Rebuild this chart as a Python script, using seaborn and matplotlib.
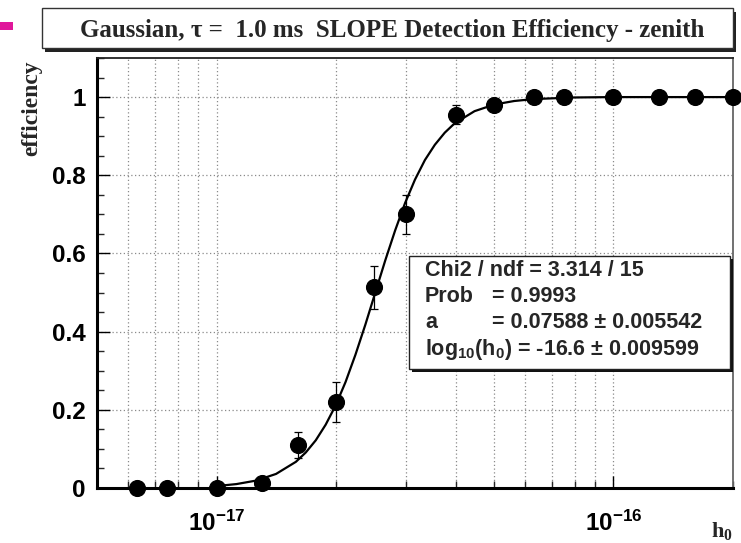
import numpy as np
import pandas as pd
import matplotlib
matplotlib.use("Agg")
import matplotlib.pyplot as plt
import matplotlib.ticker as mticker
from matplotlib.patches import Rectangle
import seaborn as sns

h0 = [6.3e-18, 7.5e-18, 1.0e-17, 1.3e-17, 1.6e-17, 2.0e-17, 2.5e-17, 3.0e-17,
      4.0e-17, 5.0e-17, 6.3e-17, 7.5e-17, 1.0e-16, 1.3e-16, 1.6e-16, 2.0e-16]
eff = [0.0, 0.0, 0.0, 0.013, 0.11, 0.22, 0.513, 0.70,
       0.955, 0.98, 1.0, 1.0, 1.0, 1.0, 1.0, 1.0]
eff_err = [0.0, 0.0, 0.0, 0.01, 0.033, 0.05, 0.055, 0.05,
           0.025, 0.01, 0.0, 0.0, 0.0, 0.0, 0.0, 0.0]

# fitted curve (log10 h0 -> efficiency)
fit_log_h0 = [-17.0, -16.95, -16.9, -16.85, -16.8, -16.775, -16.75, -16.725,
              -16.7, -16.675, -16.65, -16.625, -16.6, -16.575, -16.55, -16.525,
              -16.5, -16.475, -16.45, -16.425, -16.4, -16.35, -16.3, -16.25,
              -16.2, -16.1, -16.0, -15.85, -15.7]
fit_eff = [0.005, 0.010, 0.019, 0.036, 0.067, 0.091, 0.122, 0.162,
           0.211, 0.271, 0.341, 0.418, 0.5, 0.582, 0.659, 0.729,
           0.789, 0.839, 0.878, 0.909, 0.933, 0.964, 0.981, 0.990,
           0.995, 0.999, 1.0, 1.0, 1.0]

xticks = [1e-17, 1e-16]
xtick_labels = ["$10^{-17}$", "$10^{-16}$"]
title = "Gaussian, \u03c4 =  1.0 ms  SLOPE Detection Efficiency - zenith"
stats_labels = ["Chi2 / ndf = 3.314 / 15", "Prob", "a", "log$_{10}$(h$_0$) = -16.6 \u00b1 0.009599"]
stats_values = ["", "= 0.9993", "= 0.07588 \u00b1 0.005542", ""]

sns.set_style("white")
plt.rcParams["font.family"] = ["Liberation Sans", "DejaVu Sans"]
plt.rcParams["mathtext.default"] = "regular"

df = pd.DataFrame({"h0": h0, "eff": eff, "err": eff_err})
fit = pd.DataFrame({"h0": 10 ** np.array(fit_log_h0), "eff": fit_eff})

W, H = 741, 543
fig = plt.figure(figsize=(W / 100, H / 100), dpi=100)
ax = fig.add_axes([97 / W, 55 / H, 636 / W, 430 / H])
ax.set_xscale("log")

sns.lineplot(data=fit, x="h0", y="eff", ax=ax, color="black", lw=1.6, zorder=3)
ax.errorbar(df["h0"], df["eff"], yerr=df["err"], fmt="none", ecolor="black",
            elinewidth=0.9, capsize=3, capthick=0.9, zorder=4)
sns.scatterplot(data=df, x="h0", y="eff", ax=ax, color="black", s=130,
                edgecolor="black", zorder=5, clip_on=False)

ax.set_xlim(5e-18, 2e-16)
ax.set_ylim(0, 1.1)
ax.set_xlabel("")
ax.set_ylabel("")

ax.set_xticks(xticks)
ax.set_xticklabels(xtick_labels)
ax.xaxis.set_minor_locator(mticker.LogLocator(base=10, subs=np.arange(2, 10)))
ax.xaxis.set_minor_formatter(mticker.NullFormatter())
ax.yaxis.set_major_locator(mticker.MultipleLocator(0.2))
ax.yaxis.set_minor_locator(mticker.MultipleLocator(0.05))
ax.yaxis.set_major_formatter(mticker.FuncFormatter(lambda v, p: "%g" % round(v, 2)))

ax.tick_params(which="major", direction="in", length=9, width=1, colors="black",
               labelsize=17.5, bottom=True, left=True)
ax.tick_params(which="minor", direction="in", length=5, width=1, bottom=True, left=True)
ax.tick_params(axis="x", which="major", pad=16)
ax.tick_params(axis="y", which="major", pad=8)
for lab in ax.get_xticklabels() + ax.get_yticklabels():
    lab.set_fontweight("bold")

ax.grid(which="both", axis="x", color="#8a8a8a", ls=(0, (1, 2)), lw=0.9)
ax.grid(which="major", axis="y", color="#8a8a8a", ls=(0, (1, 2)), lw=0.9)

for side in ["left", "bottom"]:
    ax.spines[side].set_linewidth(2.2)
    ax.spines[side].set_color("black")
ax.spines["top"].set_linewidth(1.3)
ax.spines["top"].set_color("#222222")
ax.spines["right"].set_linewidth(1.3)
ax.spines["right"].set_color("#666666")

fig.text(32 / W, 1 - 60 / H, "efficiency", rotation=90,
         ha="center", va="top", fontsize=17, fontweight="bold",
         family=["Liberation Serif", "DejaVu Serif"])
fig.text(733 / W, 1 - 537 / H, "h$_0$", ha="right", va="baseline", fontsize=16,
         fontweight="bold", family=["Liberation Serif", "DejaVu Serif"])

# title box with shadow
fig.add_artist(Rectangle((45 / W, 1 - 52 / H), 691 / W, 40 / H, transform=fig.transFigure,
                         facecolor="#222222", edgecolor="none", zorder=5))
fig.add_artist(Rectangle((42 / W, 1 - 48 / H), 691 / W, 40 / H, transform=fig.transFigure,
                         facecolor="white", edgecolor="#333333", lw=1.0, zorder=6))
fig.text(392 / W, 1 - 30 / H, title, ha="center", va="center", fontsize=18,
         fontweight="bold", family=["Liberation Serif", "DejaVu Serif"], zorder=7)
fig.add_artist(Rectangle((0, 1 - 30 / H), 13 / W, 8 / H, transform=fig.transFigure,
                         facecolor="#e0179b", edgecolor="none"))

# stats box with shadow
fig.add_artist(Rectangle((412 / W, 1 - 372 / H), 321 / W, 113 / H, transform=fig.transFigure,
                         facecolor="#111111", edgecolor="none", zorder=5))
fig.add_artist(Rectangle((409 / W, 1 - 369 / H), 321 / W, 113 / H, transform=fig.transFigure,
                         facecolor="white", edgecolor="#222222", lw=1.0, zorder=6))
line_y = [271, 297, 323, 349]
for lbl, val, yy in zip(stats_labels, stats_values, line_y):
    fig.text(425 / W, 1 - yy / H, lbl, ha="left", va="center", fontsize=15.5,
             fontweight="bold", zorder=7)
    if val:
        fig.text(492 / W, 1 - yy / H, val, ha="left", va="center", fontsize=15.5,
                 fontweight="bold", zorder=7)

fig.savefig("out.png", dpi=100, facecolor="white")
